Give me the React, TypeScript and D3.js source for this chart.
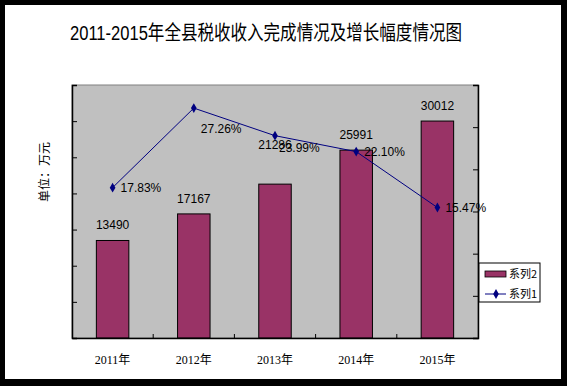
import React, { useEffect, useRef } from "react";
import * as d3 from "d3";

const years = ["2011年", "2012年", "2013年", "2014年", "2015年"];
const revenue = [13490, 17167, 21286, 25991, 30012]; // 系列2, 万元
const growth = [17.83, 27.26, 23.99, 22.1, 15.47]; // 系列1, %
const leftTicks = [0, 5000, 10000, 15000, 20000, 25000, 30000, 35000];
const rightTicks = [0, 5, 10, 15, 20, 25, 30];

// label nudges copied from the excel picture (labels were dragged by hand)
const barLabelDy = [0, 0, -24, 0, 0];
const lineLabelDx = [8, 7, 4, 8, 8];
const lineLabelDy = [0, 21, 12, 0, 0];

const W = 567;
const H = 386;
const margin = { top: 85, left: 72, right: 89, bottom: 48 };

function App() {
  const ref = useRef<SVGSVGElement>(null);

  useEffect(() => {
    const svg = d3.select(ref.current);
    svg.selectAll("*").remove();

    const iw = W - margin.left - margin.right;
    const ih = H - margin.top - margin.bottom;

    // frame
    svg.append("rect").attr("width", W).attr("height", H).attr("fill", "#000");
    svg.append("rect").attr("x", 5).attr("y", 5).attr("width", 556).attr("height", 374).attr("fill", "#fff");

    svg.append("text")
      .attr("x", 70).attr("y", 40)
      .attr("textLength", 392).attr("lengthAdjust", "spacingAndGlyphs")
      .style("font-family", "Arial, 'Liberation Sans', 'Noto Sans CJK SC'")
      .style("font-size", "20px")
      .text("2011-2015年全县税收收入完成情况及增长幅度情况图");

    const x = d3.scaleBand().domain(years).range([0, iw]).paddingInner(0.6).paddingOuter(0.3);
    const xc = d3.scaleBand().domain(years).range([0, iw]);
    const y = d3.scaleLinear().domain([0, 35000]).range([ih, 0]);
    const y2 = d3.scaleLinear().domain([0, 30]).range([ih, 0]);

    const g = svg.append("g").attr("transform", `translate(${margin.left},${margin.top})`);

    g.append("rect").attr("width", iw).attr("height", ih).attr("fill", "#c0c0c0")
      .attr("stroke", "#808080").attr("stroke-width", 1);

    // bars
    g.selectAll("rect.bar").data(revenue).join("rect").attr("class", "bar")
      .attr("x", (d, i) => x(years[i])!)
      .attr("y", (d) => y(d))
      .attr("width", x.bandwidth())
      .attr("height", (d) => ih - y(d))
      .attr("fill", "#993366").attr("stroke", "#000").attr("stroke-width", 1);

    g.selectAll("text.blab").data(revenue).join("text").attr("class", "blab")
      .attr("x", (d, i) => x(years[i])! + x.bandwidth() / 2)
      .attr("y", (d, i) => y(d) - 11 + barLabelDy[i])
      .attr("text-anchor", "middle")
      .style("font-family", "Arial, 'Liberation Sans'")
      .style("font-size", "12px")
      .text((d) => d);

    // axes
    const yl = g.append("g").call(d3.axisLeft(y).tickValues(leftTicks).tickSize(-5).tickFormat(() => ""));
    const yr = g.append("g").attr("transform", `translate(${iw},0)`)
      .call(d3.axisRight(y2).tickValues(rightTicks).tickSize(-5).tickFormat(() => ""));
    const xa = g.append("g").attr("transform", `translate(0,${ih})`)
      .call(d3.axisBottom(xc).tickSize(0).tickFormat(() => ""));
    [yl, yr, xa].forEach((a) => {
      a.select(".domain").attr("stroke", "#000").attr("stroke-width", 1.5);
      a.selectAll(".tick line").attr("stroke", "#000");
    });
    g.selectAll("line.xtick").data(years.slice(1)).join("line").attr("class", "xtick")
      .attr("x1", (d) => xc(d)!).attr("x2", (d) => xc(d)!)
      .attr("y1", ih).attr("y2", ih - 4).attr("stroke", "#000");

    g.selectAll("text.xlab").data(years).join("text").attr("class", "xlab")
      .attr("x", (d) => xc(d)! + xc.bandwidth() / 2)
      .attr("y", ih + 26)
      .attr("text-anchor", "middle")
      .style("font-family", "'Liberation Serif', 'Noto Sans CJK SC'")
      .style("font-size", "12px")
      .text((d) => d);

    // growth line
    const line = d3.line<number>()
      .x((d, i) => xc(years[i])! + xc.bandwidth() / 2)
      .y((d) => y2(d));
    g.append("path").datum(growth).attr("d", line).attr("fill", "none")
      .attr("stroke", "#000080").attr("stroke-width", 1);
    const diamond = d3.symbol().type(d3.symbolDiamond).size(28);
    g.selectAll("path.pt").data(growth).join("path").attr("class", "pt")
      .attr("d", diamond)
      .attr("transform", (d, i) => `translate(${xc(years[i])! + xc.bandwidth() / 2},${y2(d)})`)
      .attr("fill", "#000080");
    g.selectAll("text.llab").data(growth).join("text").attr("class", "llab")
      .attr("x", (d, i) => xc(years[i])! + xc.bandwidth() / 2 + lineLabelDx[i])
      .attr("y", (d, i) => y2(d) + lineLabelDy[i])
      .attr("dy", "0.35em")
      .style("font-family", "Arial, 'Liberation Sans'")
      .style("font-size", "12px")
      .text((d) => d.toFixed(2) + "%");

    // y title
    svg.append("text")
      .attr("transform", "translate(49,172) rotate(-90)")
      .attr("text-anchor", "middle")
      .style("font-family", "'Noto Sans CJK SC'")
      .style("font-size", "12px")
      .text("单位：万元");

    // legend
    const lg = svg.append("g").attr("transform", "translate(479,263)");
    lg.append("rect").attr("width", 61).attr("height", 39).attr("fill", "#fff").attr("stroke", "#000");
    lg.append("rect").attr("x", 6).attr("y", 8).attr("width", 21).attr("height", 6)
      .attr("fill", "#993366").attr("stroke", "#000").attr("stroke-width", 0.8);
    lg.append("line").attr("x1", 6).attr("x2", 27).attr("y1", 31).attr("y2", 31).attr("stroke", "#000080");
    lg.append("path").attr("d", diamond).attr("transform", "translate(17,31)").attr("fill", "#000080");
    [["系列2", 11], ["系列1", 31]].forEach(([t, yy]) => {
      lg.append("text").attr("x", 30).attr("y", yy as number).attr("dy", "0.35em")
        .style("font-family", "'Noto Sans CJK SC'").style("font-size", "11px").text(t as string);
    });
  }, []);

  return (
    <svg ref={ref} width={W} height={H} style={{ position: "absolute", left: 0, top: 0 }} />
  );
}

export default App;
